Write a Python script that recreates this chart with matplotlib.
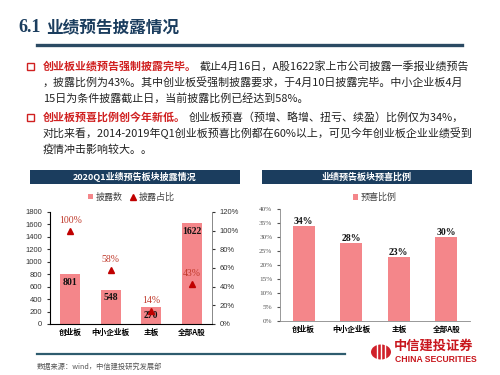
import matplotlib
matplotlib.use("Agg")
import matplotlib.pyplot as plt
from matplotlib.patches import Rectangle, Circle
from matplotlib.lines import Line2D

plt.rcParams['font.family'] = ['Noto Sans CJK SC', 'DejaVu Sans']

# data
boards = ['创业板', '中小企业板', '主板', '全部A股']
disclosed = [801, 548, 270, 1622]
disclosed_pct = [100, 58, 14, 43]
positive_pct = [34, 28, 23, 30]

W, H = 500, 375
BAR = '#f4868a'
NAVY = '#1b3d5e'
RED = '#c00000'


def fx(x):
    return x / W


def fy(y):
    return 1 - y / H


fig = plt.figure(figsize=(5, 3.75), dpi=100)
fig.patch.set_facecolor('white')

# title and rule
fig.text(fx(18), fy(27), '6.1', family='Liberation Serif', weight='bold',
         fontsize=13, color=NAVY, va='center')
fig.text(fx(46), fy(27), '业绩预告披露情况', weight='bold', fontsize=12,
         color=NAVY, va='center')
fig.add_artist(Line2D([fx(37), fx(462)], [fy(45), fy(45)], color='#2b4a63', lw=2.4))

# body text
renderer = fig.canvas.get_renderer()
body = [
    (66, '创业板业绩预告强制披露完毕。', '截止4月16日，A股1622家上市公司披露一季报业绩预告'),
    (82, '', '，披露比例为43%。其中创业板受强制披露要求，于4月10日披露完毕。中小企业板4月'),
    (98, '', '15日为条件披露截止日，当前披露比例已经达到58%。'),
    (117, '创业板预喜比例创今年新低。', '创业板预喜（预增、略增、扭亏、续盈）比例仅为34%，'),
    (133, '', '对比来看，2014-2019年Q1创业板预喜比例都在60%以上，可见今年创业板企业业绩受到'),
    (149, '', '疫情冲击影响较大。。'),
]
for y, red_part, black_part in body:
    x = fx(43)
    if red_part:
        fig.add_artist(Rectangle((fx(27), fy(y + 4)), 7 / W, 7 / H, fill=False,
                                 edgecolor='#d02020', lw=1.0))
        t = fig.text(x, fy(y), red_part, color='#d02020', weight='bold',
                     fontsize=7.9, va='center')
        bb = t.get_window_extent(renderer)
        x = fx(bb.x1 + 3)
    fig.text(x, fy(y), black_part, color='#222222', fontsize=7.9, va='center')

# section headers
for x0, x1, label in [(30, 240, '2020Q1业绩预告板块披露情况'), (262, 472, '业绩预告板块预喜比例')]:
    fig.add_artist(Rectangle((fx(x0), fy(184)), (x1 - x0) / W, 14 / H,
                             facecolor=NAVY, edgecolor='none'))
    fig.text(fx((x0 + x1) / 2), fy(177), label, color='white', weight='bold',
             fontsize=6.5, ha='center', va='center')

# left chart
ax = fig.add_axes([fx(50), fy(324), (212 - 50) / W, (324 - 212) / H])
xs = range(len(boards))
ax.bar(xs, disclosed, width=0.5, color=BAR, label='披露数')
ax.set_ylim(0, 1800)
ax.set_yticks(range(0, 1801, 200))
ax.set_xlim(-0.5, 3.5)
ax.set_xticks(list(xs))
ax.set_xticklabels(boards, weight='bold', fontsize=5.5)
ax.tick_params(axis='y', labelsize=5.5, length=2, colors='#333333')
ax.tick_params(axis='x', length=0, pad=3)
for lab in ax.get_yticklabels():
    lab.set_family('Liberation Sans')
ax.spines['top'].set_visible(False)
for s in ['left', 'right', 'bottom']:
    ax.spines[s].set_color('#888888')
    ax.spines[s].set_linewidth(0.6)
for i, v in enumerate(disclosed):
    ax.text(i, v - 130, str(v), ha='center', va='center', fontsize=7,
            weight='bold', family='Liberation Serif', color='#111111')

ax2 = ax.twinx()
ax2.plot(list(xs), disclosed_pct, linestyle='none', marker='^', markersize=5,
         color=RED, label='披露占比')
ax2.set_ylim(0, 120)
ax2.set_yticks(range(0, 121, 20))
ax2.set_yticklabels([f'{v}%' for v in range(0, 121, 20)], family='Liberation Sans')
ax2.tick_params(axis='y', labelsize=5.5, length=2, colors='#333333')
ax2.spines['top'].set_visible(False)
ax2.spines['right'].set_color('#888888')
ax2.spines['right'].set_linewidth(0.6)
for i, v in enumerate(disclosed_pct):
    ax2.text(i, v + 11, f'{v}%', ha='center', va='center', fontsize=7,
             family='Liberation Serif', color='#c0392b')

h1, l1 = ax.get_legend_handles_labels()
h2, l2 = ax2.get_legend_handles_labels()
fig.legend(h1 + h2, l1 + l2, loc='center', bbox_to_anchor=(fx(131), fy(197)),
           ncol=2, frameon=False, fontsize=6.5, handlelength=0.6, handleheight=0.6,
           handletextpad=0.3, columnspacing=0.8, labelcolor='#444444')

# right chart
bx = fig.add_axes([fx(280), fy(321), (470 - 280) / W, (321 - 209) / H])
bx.bar(xs, positive_pct, width=0.47, color=BAR, label='预喜比例')
bx.set_ylim(0, 40)
bx.set_yticks(range(0, 41, 5))
bx.set_yticklabels([f'{v}%' for v in range(0, 41, 5)], family='Liberation Serif')
bx.set_xlim(-0.5, 3.5)
bx.set_xticks(list(xs))
bx.set_xticklabels(boards, weight='bold', fontsize=5.5)
bx.tick_params(axis='y', labelsize=5.2, length=2, colors='#555555')
bx.tick_params(axis='x', length=0, pad=3)
for s in ['top', 'right']:
    bx.spines[s].set_visible(False)
for s in ['left', 'bottom']:
    bx.spines[s].set_color('#888888')
    bx.spines[s].set_linewidth(0.6)
for i, v in enumerate(positive_pct):
    bx.text(i, v + 1.6, f'{v}%', ha='center', va='center', fontsize=7,
            weight='bold', family='Liberation Serif', color='#111111')
bx.legend(loc='center', bbox_to_anchor=(0.5, 1.1), frameon=False, fontsize=6.5,
          handlelength=0.6, handleheight=0.6, handletextpad=0.3, labelcolor='#444444')

# footer
fig.add_artist(Line2D([fx(37), fx(345)], [fy(354), fy(354)], color='#2e5c6e', lw=1.6))
fig.text(fx(37), fy(367), '数据来源：wind，中信建投研究发展部', fontsize=5.2,
         style='italic', color='#555555', va='center')

# logo
fig.add_artist(Circle((fx(381), fy(352)), 10 / W, facecolor='#d0202a',
                      edgecolor='none', transform=fig.transFigure))
for dx in (-4, 0, 4):
    fig.add_artist(Line2D([fx(381 + dx), fx(381 + dx)], [fy(344), fy(360)],
                          color='white', lw=1.0))
fig.text(fx(394), fy(346), '中信建投证券', color='#c8161d', weight='bold',
         fontsize=9.5, va='center')
fig.text(fx(395), fy(360), 'CHINA SECURITIES', color='#c8161d', weight='bold',
         family='Liberation Sans', fontsize=6.2, va='center')

fig.savefig('out.png', dpi=100)
